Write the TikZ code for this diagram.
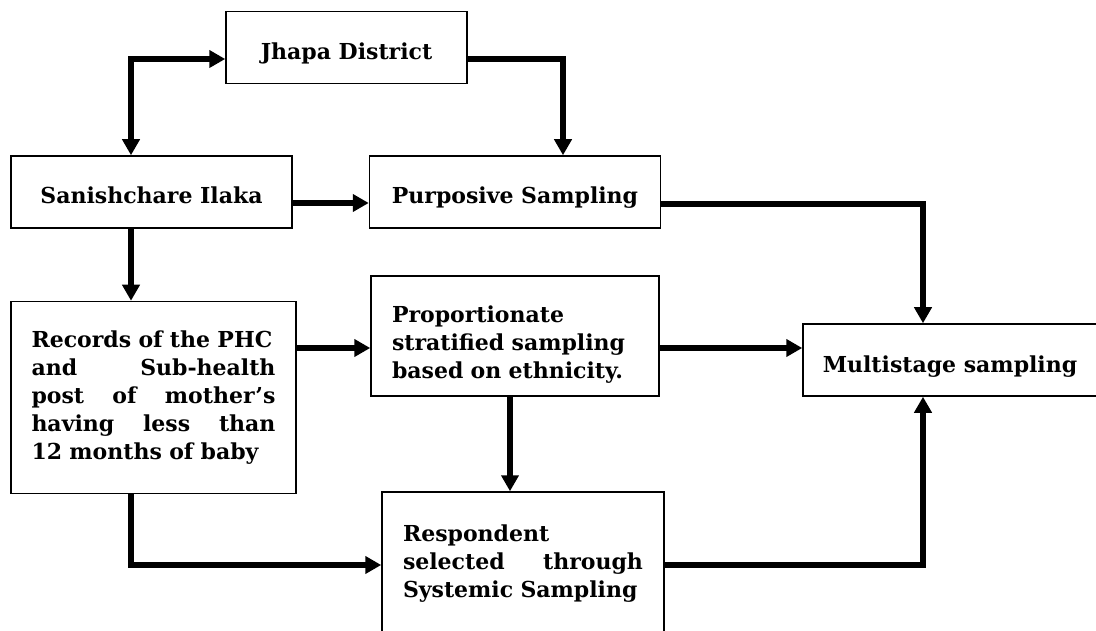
\documentclass[tikz,border=0pt]{standalone}
\usepackage{fontspec}
\setmainfont{DejaVu Serif}
\usetikzlibrary{positioning,arrows.meta}
\tikzset{>={Triangle[length=16pt,width=17pt]}}
\tikzset{
  box/.style={draw,line width=1.5pt,inner sep=0pt,font=\bfseries\fontsize{22}{28}\selectfont},
  single/.style={box,minimum height=72pt,text height=24pt,text depth=0pt},
  para/.style={box,align=left},
  link/.style={line width=5.5pt,->},
}

\begin{document}
\begin{tikzpicture}[x=1pt,y=-1pt]
  \useasboundingbox (0,0) rectangle (1096,631);
  \clip (0,0) rectangle (1096,631);
  % boxes
  \node[single,minimum width=241pt] (jhapa) at (346.5,47.5) {Jhapa District};
  \node[single,minimum width=281pt] (ilaka) at (151.5,192) {Sanishchare Ilaka};
  \node[single,minimum width=291pt] (purposive) [right=76pt of ilaka] {Purposive Sampling};
  \node[para,text width=244pt,minimum width=285pt,minimum height=192pt] (records) [below=72pt of ilaka,xshift=2pt]
       {Records of the PHC\\ and\hfill Sub-health\\ post\hfill of\hfill mother's\\ having\hfill less\hfill than\\ 12 months of baby};
  \node[para,text width=246pt,minimum width=288pt,minimum height=120pt] (strat) at (515,336)
       {\rule{0pt}{34pt}Proportionate\\ stratified sampling\\ based on ethnicity.};
  \node[para,text width=240pt,minimum width=282pt,minimum height=144pt] (resp) at (523,564)
       {Respondent\\ selected\hfill through\\ Systemic Sampling};
  \node[single,minimum width=294pt] (multi) at (950,360) {Multistage sampling};
  % guide coordinates
  \coordinate (lx) at (131,0);
  \coordinate (rx) at (563,0);
  \coordinate (sx) at (510,0);
  \coordinate (mx) at (923,0);
  \coordinate (jy) at (0,59);
  \coordinate (ay) at (0,203);
  \coordinate (py) at (0,204);
  \coordinate (sy) at (0,348);
  \coordinate (ry) at (0,565);
  % connectors
  \draw[link,<->] (jhapa.west |- jy) -| (ilaka.north -| lx);
  \draw[link] (jhapa.east |- jy) -| (purposive.north -| rx);
  \draw[link] (ilaka.east |- ay) -- (purposive.west |- ay);
  \draw[link] (ilaka.south -| lx) -- (records.north -| lx);
  \draw[link] (purposive.east |- py) -| (multi.north -| mx);
  \draw[link] (records.east |- sy) -- (strat.west |- sy);
  \draw[link] (strat.east |- sy) -- (multi.west |- sy);
  \draw[link] (strat.south -| sx) -- (resp.north -| sx);
  \draw[link] (records.south -| lx) |- (resp.west |- ry);
  \draw[link] (resp.east |- ry) -| (multi.south -| mx);
\end{tikzpicture}
\end{document}
